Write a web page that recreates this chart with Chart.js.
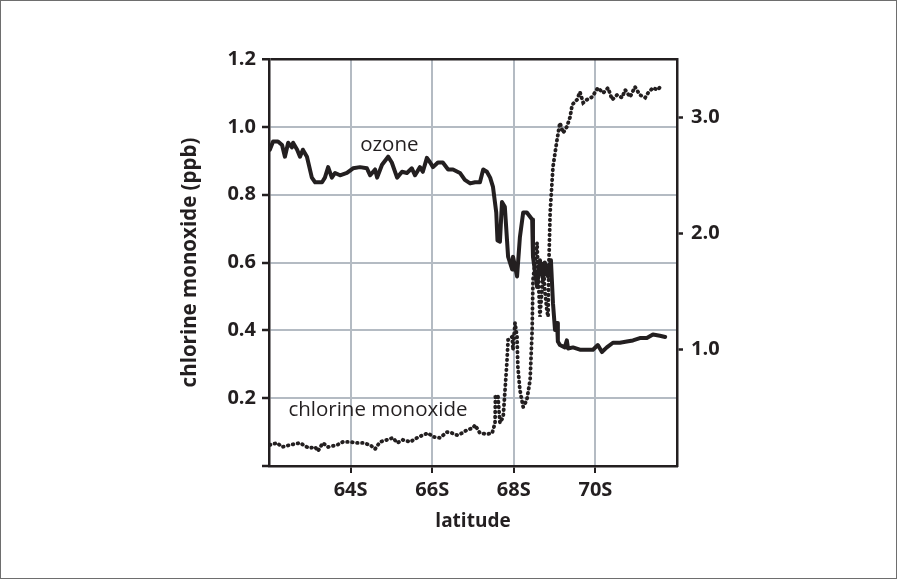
<!DOCTYPE html>
<html>
<head>
<meta charset="utf-8">
<style>
  html, body { margin: 0; padding: 0; background: #ffffff; }
  canvas { display: block; }
</style>
<script src="https://cdn.jsdelivr.net/npm/chart.js@4.4.1/dist/chart.umd.min.js"></script>
</head>
<body>
<canvas id="c" width="897" height="579"></canvas>
<script>
// ---- data (latitude in degrees south) ----
const ozoneLat = [62.02,62.10,62.22,62.32,62.39,62.47,62.56,62.59,62.69,62.76,62.83,62.93,63.05,63.13,63.30,63.37,63.45,63.54,63.62,63.74,63.91,64.06,64.23,64.40,64.48,64.60,64.65,64.77,64.92,65.01,65.14,65.26,65.38,65.50,65.58,65.70,65.77,65.87,65.95,66.02,66.14,66.26,66.39,66.51,66.68,66.80,66.93,67.05,67.17,67.25,67.34,67.42,67.49,67.57,67.60,67.66,67.71,67.78,67.86,67.96,67.98,68.08,68.15,68.23,68.32,68.45,68.47,68.57,68.64,68.72,68.76,68.84,68.91,68.96,69.01,69.06,69.08,69.13,69.25,69.30,69.33,69.45,69.62,69.79,69.94,70.06,70.16,70.28,70.43,70.60,70.77,70.92,71.09,71.26,71.41,71.58,71.71];
const ozoneVal = [2.72,2.79,2.79,2.76,2.66,2.78,2.74,2.78,2.72,2.66,2.72,2.66,2.48,2.44,2.44,2.48,2.57,2.48,2.52,2.50,2.52,2.56,2.57,2.56,2.50,2.55,2.48,2.59,2.66,2.61,2.48,2.53,2.52,2.56,2.50,2.57,2.53,2.65,2.61,2.57,2.61,2.61,2.55,2.55,2.52,2.46,2.43,2.44,2.44,2.55,2.53,2.48,2.40,2.18,1.94,1.93,2.27,2.23,1.80,1.69,1.80,1.63,1.97,2.18,2.18,2.12,1.80,1.54,1.77,1.60,1.75,1.63,1.77,1.40,1.17,1.23,1.07,1.04,1.02,1.08,1.01,1.02,1.00,1.00,1.00,1.04,0.98,1.02,1.06,1.06,1.07,1.08,1.10,1.10,1.13,1.12,1.11];

const cloLat = [62.02,62.20,62.32,62.51,62.76,62.93,63.00,63.13,63.20,63.32,63.45,63.67,63.81,63.99,64.16,64.30,64.48,64.60,64.72,64.89,65.04,65.14,65.28,65.46,65.63,65.77,65.90,66.02,66.19,66.36,66.49,66.61,66.73,66.85,67.00,67.05,67.17,67.34,67.47,67.54,67.55,67.61,67.66,67.74,67.78,67.83,67.86,67.96,67.98,68.03,68.08,68.10,68.15,68.23,68.32,68.40,68.45,68.47,68.52,68.57,68.59,68.64,68.69,68.72,68.76,68.81,68.84,68.86,68.89,68.94,68.96,69.06,69.13,69.21,69.30,69.38,69.43,69.55,69.62,69.70,69.79,69.92,70.06,70.19,70.31,70.41,70.53,70.65,70.73,70.85,70.97,71.09,71.22,71.29,71.41,71.53,71.63];
const cloVal = [0.062,0.068,0.056,0.062,0.068,0.056,0.053,0.056,0.044,0.068,0.056,0.062,0.071,0.071,0.068,0.068,0.062,0.050,0.071,0.077,0.083,0.068,0.077,0.071,0.083,0.091,0.097,0.086,0.083,0.100,0.097,0.091,0.097,0.106,0.112,0.121,0.097,0.094,0.097,0.127,0.204,0.209,0.127,0.145,0.215,0.304,0.372,0.381,0.342,0.422,0.381,0.292,0.224,0.174,0.195,0.254,0.401,0.549,0.599,0.658,0.587,0.440,0.519,0.599,0.519,0.460,0.440,0.599,0.746,0.844,0.882,0.962,1.012,0.982,1.000,1.029,1.065,1.080,1.103,1.071,1.080,1.088,1.115,1.100,1.115,1.080,1.094,1.086,1.109,1.088,1.118,1.094,1.086,1.100,1.115,1.109,1.124];

const xTickValues = [64, 66, 68, 70];
const leftTickValues = [0.2, 0.4, 0.6, 0.8, 1.0, 1.2];
const rightTickValues = [1.0, 2.0, 3.0];

const INK = '#231f20';
const GRID = '#b4bbc3';
const FONT = '"Open Sans", "DejaVu Sans", sans-serif';

const near = (a, b) => Math.abs(a - b) < 1e-6;

const decor = {
  id: 'decor',
  beforeDraw(chart) {
    const c = chart.ctx;
    c.save();
    c.fillStyle = '#ffffff';
    c.fillRect(0, 0, chart.width, chart.height);
    c.restore();
  },
  afterDatasetsDraw(chart) {
    const c = chart.ctx;
    const xs = chart.scales.x, ys = chart.scales.y;
    c.save();
    c.fillStyle = INK;
    c.font = '20.5px ' + FONT;
    c.textAlign = 'center';
    c.textBaseline = 'middle';
    c.fillText('ozone', xs.getPixelForValue(64.95), ys.getPixelForValue(0.947));
    c.fillText('chlorine monoxide', xs.getPixelForValue(64.67), ys.getPixelForValue(0.165));
    c.restore();
  },
  afterDraw(chart) {
    const c = chart.ctx;
    c.save();
    c.strokeStyle = '#6e6e6e';
    c.lineWidth = 1;
    c.strokeRect(0.5, 0.5, chart.width - 1, chart.height - 1);
    c.restore();
  }
};

new Chart(document.getElementById('c'), {
  type: 'line',
  data: {
    datasets: [
      {
        label: 'ozone',
        data: ozoneLat.map((x, i) => ({ x: x, y: ozoneVal[i] })),
        yAxisID: 'yR',
        borderColor: INK,
        borderWidth: 4,
        borderJoinStyle: 'round',
        borderCapStyle: 'round',
        pointRadius: 0,
        tension: 0,
        fill: false
      },
      {
        label: 'chlorine monoxide',
        data: cloLat.map((x, i) => ({ x: x, y: cloVal[i] })),
        yAxisID: 'y',
        borderColor: INK,
        borderWidth: 3.8,
        borderDash: [0.6, 4.4],
        borderCapStyle: 'round',
        pointRadius: 0,
        tension: 0,
        fill: false
      }
    ]
  },
  options: {
    responsive: false,
    animation: false,
    events: [],
    layout: { padding: { top: 59, bottom: 44, left: 0, right: 0 } },
    plugins: { legend: { display: false }, tooltip: { enabled: false } },
    scales: {
      x: {
        type: 'linear',
        position: 'bottom',
        min: 62, max: 72,
        afterBuildTicks: s => { s.ticks = [62].concat(xTickValues, [72]).map(v => ({ value: v })); },
        afterFit: s => { s.height = 69; },
        grid: {
          color: ctx => (ctx.tick && (near(ctx.tick.value, 62) || near(ctx.tick.value, 72))) ? 'rgba(0,0,0,0)' : GRID,
          tickColor: ctx => (ctx.tick && (near(ctx.tick.value, 62) || near(ctx.tick.value, 72))) ? 'rgba(0,0,0,0)' : INK,
          lineWidth: 2, tickWidth: 2, tickLength: 7, drawTicks: true
        },
        border: { display: true, color: INK, width: 2.5 },
        ticks: {
          color: INK,
          font: { family: FONT, size: 20, weight: 'bold' },
          padding: 5,
          maxRotation: 0,
          autoSkip: false,
          callback: v => (near(v, 62) || near(v, 72)) ? '' : v + 'S'
        },
        title: {
          display: true, text: 'latitude', color: INK,
          font: { family: FONT, size: 19, weight: 'bold' },
          padding: { top: 0, bottom: 2 }
        }
      },
      y: {
        type: 'linear',
        position: 'left',
        min: 0, max: 1.2,
        afterBuildTicks: s => { s.ticks = [0].concat(leftTickValues).map(v => ({ value: v })); },
        afterFit: s => { s.width = 269; },
        grid: {
          color: ctx => (ctx.tick && (near(ctx.tick.value, 1.2) || near(ctx.tick.value, 0))) ? INK : GRID,
          tickColor: INK,
          lineWidth: ctx => (ctx.tick && (near(ctx.tick.value, 1.2))) ? 2.5 : 2,
          tickWidth: 2.5, tickLength: 7
        },
        border: { display: true, color: INK, width: 2.5 },
        ticks: {
          color: INK,
          font: { family: FONT, size: 20, weight: 'bold' },
          padding: 6,
          callback: v => near(v, 0) ? '' : v.toFixed(1)
        },
        title: {
          display: true, text: 'chlorine monoxide (ppb)', color: INK,
          font: { family: FONT, size: 20.5, weight: 'bold' },
          padding: { top: 178, bottom: 0 }
        }
      },
      yR: {
        type: 'linear',
        position: 'right',
        min: 0, max: 3.5,
        afterBuildTicks: s => { s.ticks = rightTickValues.map(v => ({ value: v })); },
        afterFit: s => { s.width = 220; },
        grid: { drawOnChartArea: false, tickColor: INK, tickWidth: 2.5, tickLength: 6, color: INK },
        border: { display: true, color: INK, width: 2.5 },
        ticks: {
          color: INK,
          font: { family: FONT, size: 20, weight: 'bold' },
          padding: 8,
          callback: v => v.toFixed(1)
        }
      }
    }
  },
  plugins: [decor]
});
</script>
</body>
</html>
